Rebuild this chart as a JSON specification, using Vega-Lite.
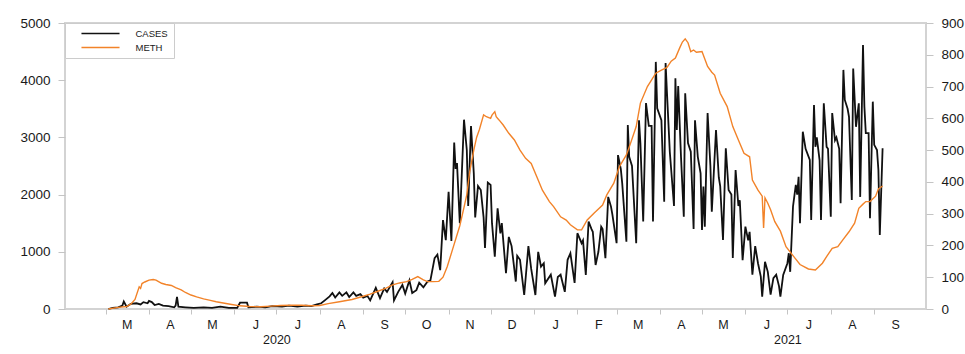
{
  "$schema": "https://vega.github.io/schema/vega-lite/v6.json",
  "width": 861,
  "height": 286,
  "autosize": {"type": "none"},
  "padding": {"left": 65, "top": 23, "right": 39, "bottom": 45},
  "background": "white",
  "config": {
    "view": {"stroke": "#d3d3d3", "strokeWidth": 2},
    "font": "Liberation Sans",
    "axis": {"labelFont": "Liberation Sans", "labelColor": "#1a1a1a", "grid": false, "domain": false, "tickColor": "#c4c4c4", "title": null}
  },
  "datasets": {
    "cases": [
      {"d":"2020-03-03","v":0},{"d":"2020-03-06","v":20},{"d":"2020-03-10","v":30},{"d":"2020-03-13","v":60},{"d":"2020-03-14","v":130},{"d":"2020-03-16","v":40},{"d":"2020-03-19","v":90},{"d":"2020-03-23","v":100},{"d":"2020-03-26","v":80},{"d":"2020-03-28","v":120},{"d":"2020-03-31","v":100},{"d":"2020-04-01","v":140},{"d":"2020-04-03","v":120},{"d":"2020-04-05","v":70},{"d":"2020-04-08","v":90},{"d":"2020-04-11","v":60},{"d":"2020-04-15","v":50},{"d":"2020-04-19","v":30},{"d":"2020-04-20","v":60},{"d":"2020-04-21","v":210},{"d":"2020-04-22","v":40},{"d":"2020-04-27","v":30},{"d":"2020-05-03","v":20},{"d":"2020-05-10","v":30},{"d":"2020-05-16","v":20},{"d":"2020-05-22","v":40},{"d":"2020-05-28","v":20},{"d":"2020-06-03","v":20},{"d":"2020-06-05","v":110},{"d":"2020-06-10","v":110},{"d":"2020-06-11","v":30},{"d":"2020-06-17","v":40},{"d":"2020-06-23","v":30},{"d":"2020-06-28","v":50},{"d":"2020-07-05","v":40},{"d":"2020-07-10","v":60},{"d":"2020-07-16","v":40},{"d":"2020-07-22","v":60},{"d":"2020-07-26","v":50},{"d":"2020-07-30","v":80},
      {"d":"2020-08-02","v":100},{"d":"2020-08-05","v":160},{"d":"2020-08-08","v":220},{"d":"2020-08-10","v":280},{"d":"2020-08-12","v":200},{"d":"2020-08-15","v":290},{"d":"2020-08-17","v":230},{"d":"2020-08-20","v":290},{"d":"2020-08-22","v":210},{"d":"2020-08-25","v":290},{"d":"2020-08-27","v":230},{"d":"2020-08-30","v":260},{"d":"2020-09-01","v":200},{"d":"2020-09-04","v":230},{"d":"2020-09-06","v":150},{"d":"2020-09-10","v":370},{"d":"2020-09-13","v":190},{"d":"2020-09-16","v":360},{"d":"2020-09-18","v":300},{"d":"2020-09-22","v":470},{"d":"2020-09-23","v":150},{"d":"2020-09-26","v":300},{"d":"2020-09-29","v":420},{"d":"2020-10-01","v":270},{"d":"2020-10-04","v":500},{"d":"2020-10-06","v":280},{"d":"2020-10-09","v":330},{"d":"2020-10-11","v":460},{"d":"2020-10-14","v":380},{"d":"2020-10-17","v":480},{"d":"2020-10-19","v":500},{"d":"2020-10-22","v":890},{"d":"2020-10-24","v":950},{"d":"2020-10-26","v":680},{"d":"2020-10-28","v":1555},{"d":"2020-10-30","v":1205},
      {"d":"2020-11-01","v":2050},{"d":"2020-11-03","v":1190},{"d":"2020-11-05","v":2910},{"d":"2020-11-06","v":2450},{"d":"2020-11-07","v":2550},{"d":"2020-11-09","v":1500},{"d":"2020-11-12","v":3310},{"d":"2020-11-14","v":2780},{"d":"2020-11-15","v":1800},{"d":"2020-11-17","v":3200},{"d":"2020-11-19","v":2370},{"d":"2020-11-20","v":1600},{"d":"2020-11-22","v":2150},{"d":"2020-11-24","v":2080},{"d":"2020-11-26","v":1600},{"d":"2020-11-27","v":1065},{"d":"2020-11-29","v":2210},{"d":"2020-12-01","v":2170},{"d":"2020-12-02","v":1500},{"d":"2020-12-04","v":915},{"d":"2020-12-06","v":1760},{"d":"2020-12-08","v":1320},{"d":"2020-12-09","v":1500},{"d":"2020-12-12","v":625},{"d":"2020-12-14","v":1260},{"d":"2020-12-16","v":1100},{"d":"2020-12-19","v":480},{"d":"2020-12-20","v":930},{"d":"2020-12-22","v":860},{"d":"2020-12-25","v":245},{"d":"2020-12-28","v":1100},{"d":"2020-12-30","v":700},
      {"d":"2021-01-02","v":245},{"d":"2021-01-04","v":1000},{"d":"2021-01-06","v":740},{"d":"2021-01-08","v":800},{"d":"2021-01-09","v":450},{"d":"2021-01-13","v":600},{"d":"2021-01-16","v":215},{"d":"2021-01-18","v":560},{"d":"2021-01-20","v":600},{"d":"2021-01-23","v":300},{"d":"2021-01-25","v":860},{"d":"2021-01-27","v":975},{"d":"2021-01-30","v":455},{"d":"2021-02-01","v":1325},{"d":"2021-02-04","v":1150},{"d":"2021-02-05","v":1200},{"d":"2021-02-07","v":595},{"d":"2021-02-09","v":1530},{"d":"2021-02-11","v":1400},{"d":"2021-02-12","v":1350},{"d":"2021-02-14","v":770},{"d":"2021-02-16","v":1000},{"d":"2021-02-18","v":1440},{"d":"2021-02-19","v":1400},{"d":"2021-02-21","v":890},{"d":"2021-02-23","v":1960},{"d":"2021-02-25","v":1790},{"d":"2021-02-26","v":1650},
      {"d":"2021-03-01","v":1150},{"d":"2021-03-02","v":2690},{"d":"2021-03-04","v":2450},{"d":"2021-03-05","v":2200},{"d":"2021-03-08","v":1175},{"d":"2021-03-09","v":3215},{"d":"2021-03-10","v":2660},{"d":"2021-03-12","v":2500},{"d":"2021-03-15","v":1150},{"d":"2021-03-17","v":3300},{"d":"2021-03-18","v":2900},{"d":"2021-03-20","v":1530},{"d":"2021-03-22","v":3600},{"d":"2021-03-24","v":3200},{"d":"2021-03-26","v":3200},{"d":"2021-03-27","v":1530},{"d":"2021-03-29","v":4320},{"d":"2021-03-30","v":3510},{"d":"2021-04-02","v":3300},{"d":"2021-04-04","v":1875},{"d":"2021-04-05","v":4300},{"d":"2021-04-06","v":3770},{"d":"2021-04-08","v":2750},{"d":"2021-04-11","v":1800},{"d":"2021-04-12","v":4035},{"d":"2021-04-13","v":3130},{"d":"2021-04-14","v":3900},{"d":"2021-04-16","v":2660},{"d":"2021-04-18","v":1615},{"d":"2021-04-19","v":3770},{"d":"2021-04-21","v":2900},{"d":"2021-04-23","v":2750},{"d":"2021-04-25","v":1400},{"d":"2021-04-26","v":3300},{"d":"2021-04-28","v":2660},{"d":"2021-04-30","v":2370},
      {"d":"2021-05-01","v":1380},{"d":"2021-05-02","v":2140},{"d":"2021-05-03","v":1440},{"d":"2021-05-05","v":3425},{"d":"2021-05-07","v":2500},{"d":"2021-05-08","v":1700},{"d":"2021-05-11","v":3130},{"d":"2021-05-13","v":2300},{"d":"2021-05-14","v":2150},{"d":"2021-05-16","v":1205},{"d":"2021-05-18","v":2810},{"d":"2021-05-20","v":2080},{"d":"2021-05-22","v":2000},{"d":"2021-05-23","v":890},{"d":"2021-05-25","v":2430},{"d":"2021-05-27","v":1800},{"d":"2021-05-28","v":1900},{"d":"2021-05-30","v":855},{"d":"2021-06-01","v":1440},{"d":"2021-06-03","v":1200},{"d":"2021-06-04","v":1350},{"d":"2021-06-06","v":600},{"d":"2021-06-08","v":1100},{"d":"2021-06-10","v":800},{"d":"2021-06-12","v":565},{"d":"2021-06-13","v":215},{"d":"2021-06-15","v":825},{"d":"2021-06-17","v":650},{"d":"2021-06-19","v":250},{"d":"2021-06-21","v":540},{"d":"2021-06-23","v":600},{"d":"2021-06-25","v":400},{"d":"2021-06-26","v":215},{"d":"2021-06-28","v":595},
      {"d":"2021-07-01","v":800},{"d":"2021-07-02","v":975},{"d":"2021-07-03","v":650},{"d":"2021-07-05","v":1790},{"d":"2021-07-07","v":2170},{"d":"2021-07-08","v":2000},{"d":"2021-07-09","v":2310},{"d":"2021-07-10","v":1500},{"d":"2021-07-12","v":3100},{"d":"2021-07-14","v":2800},{"d":"2021-07-17","v":2605},{"d":"2021-07-18","v":1555},{"d":"2021-07-20","v":3565},{"d":"2021-07-21","v":2835},{"d":"2021-07-22","v":3000},{"d":"2021-07-24","v":2600},{"d":"2021-07-25","v":1555},{"d":"2021-07-27","v":3595},{"d":"2021-07-29","v":2835},{"d":"2021-07-30","v":2800},{"d":"2021-08-01","v":1615},{"d":"2021-08-02","v":3425},{"d":"2021-08-04","v":2950},{"d":"2021-08-05","v":3000},{"d":"2021-08-07","v":2800},{"d":"2021-08-08","v":1850},{"d":"2021-08-10","v":4180},{"d":"2021-08-11","v":3655},{"d":"2021-08-13","v":3500},{"d":"2021-08-14","v":3360},{"d":"2021-08-16","v":1905},{"d":"2021-08-17","v":4205},{"d":"2021-08-19","v":3185},{"d":"2021-08-21","v":3595},{"d":"2021-08-22","v":1960},{"d":"2021-08-24","v":4615},{"d":"2021-08-25","v":3535},{"d":"2021-08-26","v":3075},{"d":"2021-08-28","v":3075},{"d":"2021-08-29","v":1585},{"d":"2021-08-31","v":3625},{"d":"2021-09-01","v":2870},{"d":"2021-09-03","v":2780},{"d":"2021-09-04","v":2430},{"d":"2021-09-05","v":1295},{"d":"2021-09-07","v":2810}
    ],
    "meth": [
      {"d":"2020-03-03","v":0},{"d":"2020-03-10","v":5},{"d":"2020-03-16","v":8},{"d":"2020-03-19","v":15},{"d":"2020-03-22","v":30},{"d":"2020-03-25","v":70},{"d":"2020-03-26","v":65},{"d":"2020-03-27","v":80},{"d":"2020-03-29","v":85},{"d":"2020-04-01","v":91},{"d":"2020-04-04","v":93},{"d":"2020-04-06","v":91},{"d":"2020-04-10","v":81},{"d":"2020-04-13","v":77},{"d":"2020-04-17","v":74},{"d":"2020-04-20","v":67},{"d":"2020-04-24","v":60},{"d":"2020-04-27","v":52},{"d":"2020-05-01","v":44},{"d":"2020-05-05","v":38},{"d":"2020-05-10","v":32},{"d":"2020-05-14","v":28},{"d":"2020-05-19","v":23},{"d":"2020-05-24","v":19},{"d":"2020-05-29","v":15},{"d":"2020-06-05","v":10},{"d":"2020-06-12","v":8},{"d":"2020-06-20","v":7},{"d":"2020-06-27","v":9},{"d":"2020-07-04","v":11},{"d":"2020-07-12","v":12},{"d":"2020-07-19","v":12},{"d":"2020-07-26","v":10},{"d":"2020-08-01","v":11},{"d":"2020-08-07","v":17},{"d":"2020-08-15","v":23},{"d":"2020-08-24","v":30},{"d":"2020-09-01","v":40},{"d":"2020-09-06","v":47},{"d":"2020-09-11","v":55},{"d":"2020-09-17","v":65},{"d":"2020-09-22","v":76},{"d":"2020-09-27","v":82},{"d":"2020-10-02","v":86},{"d":"2020-10-06","v":93},{"d":"2020-10-10","v":102},{"d":"2020-10-14","v":92},{"d":"2020-10-17","v":86},{"d":"2020-10-21","v":86},{"d":"2020-10-25","v":87},{"d":"2020-10-28","v":100},{"d":"2020-10-31","v":133},{"d":"2020-11-04","v":190},{"d":"2020-11-09","v":262},{"d":"2020-11-12","v":320},{"d":"2020-11-14","v":360},{"d":"2020-11-16","v":430},{"d":"2020-11-19","v":500},{"d":"2020-11-21","v":540},{"d":"2020-11-23","v":565},{"d":"2020-11-26","v":611},{"d":"2020-11-28","v":605},{"d":"2020-12-01","v":600},{"d":"2020-12-02","v":610},{"d":"2020-12-04","v":621},{"d":"2020-12-05","v":605},{"d":"2020-12-07","v":595},{"d":"2020-12-10","v":579},{"d":"2020-12-14","v":553},{"d":"2020-12-18","v":532},{"d":"2020-12-22","v":500},{"d":"2020-12-26","v":474},{"d":"2020-12-30","v":458},
      {"d":"2021-01-03","v":416},{"d":"2021-01-07","v":374},{"d":"2021-01-12","v":338},{"d":"2021-01-15","v":322},{"d":"2021-01-20","v":290},{"d":"2021-01-24","v":280},{"d":"2021-01-27","v":265},{"d":"2021-02-01","v":249},{"d":"2021-02-04","v":249},{"d":"2021-02-08","v":280},{"d":"2021-02-13","v":302},{"d":"2021-02-19","v":327},{"d":"2021-02-22","v":359},{"d":"2021-02-27","v":396},{"d":"2021-03-03","v":448},{"d":"2021-03-08","v":485},{"d":"2021-03-11","v":522},{"d":"2021-03-15","v":574},{"d":"2021-03-18","v":648},{"d":"2021-03-23","v":700},{"d":"2021-03-29","v":742},{"d":"2021-04-02","v":752},{"d":"2021-04-06","v":760},{"d":"2021-04-09","v":780},{"d":"2021-04-12","v":790},{"d":"2021-04-15","v":821},{"d":"2021-04-17","v":840},{"d":"2021-04-19","v":850},{"d":"2021-04-21","v":838},{"d":"2021-04-23","v":810},{"d":"2021-04-25","v":815},{"d":"2021-04-27","v":808},{"d":"2021-05-01","v":810},{"d":"2021-05-05","v":763},{"d":"2021-05-08","v":745},{"d":"2021-05-10","v":736},{"d":"2021-05-14","v":679},{"d":"2021-05-19","v":637},{"d":"2021-05-23","v":574},{"d":"2021-05-27","v":532},{"d":"2021-05-31","v":490},{"d":"2021-06-04","v":479},{"d":"2021-06-06","v":406},{"d":"2021-06-10","v":374},{"d":"2021-06-13","v":355},{"d":"2021-06-14","v":255},{"d":"2021-06-15","v":350},{"d":"2021-06-17","v":333},{"d":"2021-06-19","v":312},{"d":"2021-06-22","v":275},{"d":"2021-06-26","v":245},{"d":"2021-06-30","v":196},{"d":"2021-07-05","v":168},{"d":"2021-07-10","v":140},{"d":"2021-07-16","v":126},{"d":"2021-07-21","v":123},{"d":"2021-07-26","v":144},{"d":"2021-07-29","v":165},{"d":"2021-08-02","v":191},{"d":"2021-08-06","v":196},{"d":"2021-08-10","v":220},{"d":"2021-08-14","v":243},{"d":"2021-08-18","v":270},{"d":"2021-08-21","v":317},{"d":"2021-08-24","v":330},{"d":"2021-08-26","v":338},{"d":"2021-08-29","v":338},{"d":"2021-09-02","v":355},{"d":"2021-09-04","v":378},{"d":"2021-09-07","v":387}
    ]
  },
  "layer": [
    {
      "data": {"name": "cases"},
      "mark": {"type": "line", "strokeWidth": 1.8},
      "encoding": {
        "x": {
          "field": "d", "type": "temporal",
          "scale": {"type": "utc", "nice": false, "domain": [{"year": 2020, "month": 2, "date": 1, "utc": true}, {"year": 2021, "month": 10, "date": 8, "utc": true}]},
          "axis": {
            "orient": "bottom",
            "values": [
              {"year": 2020, "month": 3, "date": 1, "utc": true}, {"year": 2020, "month": 4, "date": 1, "utc": true}, {"year": 2020, "month": 5, "date": 1, "utc": true}, {"year": 2020, "month": 6, "date": 1, "utc": true}, {"year": 2020, "month": 7, "date": 1, "utc": true}, {"year": 2020, "month": 8, "date": 1, "utc": true}, {"year": 2020, "month": 9, "date": 1, "utc": true}, {"year": 2020, "month": 10, "date": 1, "utc": true}, {"year": 2020, "month": 11, "date": 1, "utc": true}, {"year": 2020, "month": 12, "date": 1, "utc": true},
              {"year": 2021, "month": 1, "date": 1, "utc": true}, {"year": 2021, "month": 2, "date": 1, "utc": true}, {"year": 2021, "month": 3, "date": 1, "utc": true}, {"year": 2021, "month": 4, "date": 1, "utc": true}, {"year": 2021, "month": 5, "date": 1, "utc": true}, {"year": 2021, "month": 6, "date": 1, "utc": true}, {"year": 2021, "month": 7, "date": 1, "utc": true}, {"year": 2021, "month": 8, "date": 1, "utc": true}, {"year": 2021, "month": 9, "date": 1, "utc": true}
            ],
            "labelExpr": "substring(utcFormat(datum.value, '%b'), 0, 1)",
            "labelOffset": 21,
            "labelAlign": "center",
            "labelFontSize": 12.5,
            "labelPadding": 4,
            "tickSize": 5,
            "labelOverlap": false,
            "labelFlush": false,
            "labelBound": false
          }
        },
        "y": {
          "field": "v", "type": "quantitative",
          "scale": {"domain": [0, 5000], "nice": false},
          "axis": {"orient": "left", "values": [0, 1000, 2000, 3000, 4000, 5000], "format": "d", "tickSize": 7, "labelPadding": 8, "labelFontSize": 13.5}
        },
        "color": {
          "datum": "CASES",
          "scale": {"domain": ["CASES", "METH"], "range": ["#111111", "#F28329"]},
          "legend": {
            "title": null,
            "orient": "top-left",
            "offset": 0,
            "padding": 5.5,
            "strokeColor": "#cccccc",
            "fillColor": "white",
            "symbolType": "M-5,0H5",
            "symbolSize": 58,
            "symbolStrokeWidth": 1.5,
            "symbolOffset": 25,
            "labelOffset": 30,
            "labelExpr": "datum.label + '\u00a0\u00a0\u00a0\u00a0\u00a0\u00a0\u00a0\u00a0\u00a0\u00a0'",
            "labelFont": "Liberation Sans",
            "labelFontSize": 9.5,
            "labelColor": "#1a1a1a",
            "rowPadding": 4
          }
        }
      }
    },
    {
      "data": {"name": "meth"},
      "mark": {"type": "line", "strokeWidth": 1.4},
      "encoding": {
        "x": {
          "field": "d", "type": "temporal",
          "axis": {
            "orient": "bottom",
            "values": [{"year": 2020, "month": 7, "date": 1, "utc": true}, {"year": 2021, "month": 7, "date": 1, "utc": true}],
            "labelExpr": "utcFormat(datum.value, '%Y')",
            "ticks": false,
            "tickSize": 0,
            "labelPadding": 24.5,
            "labelFontSize": 12.5,
            "labelOverlap": false,
            "labelFlush": false,
            "labelBound": false
          }
        },
        "y": {
          "field": "v", "type": "quantitative",
          "scale": {"domain": [0, 900], "nice": false},
          "axis": {"orient": "right", "values": [0, 100, 200, 300, 400, 500, 600, 700, 800, 900], "tickSize": 7, "labelPadding": 8, "labelFontSize": 13.5}
        },
        "color": {"datum": "METH"}
      }
    }
  ],
  "resolve": {"scale": {"y": "independent"}, "axis": {"x": "independent"}}
}
